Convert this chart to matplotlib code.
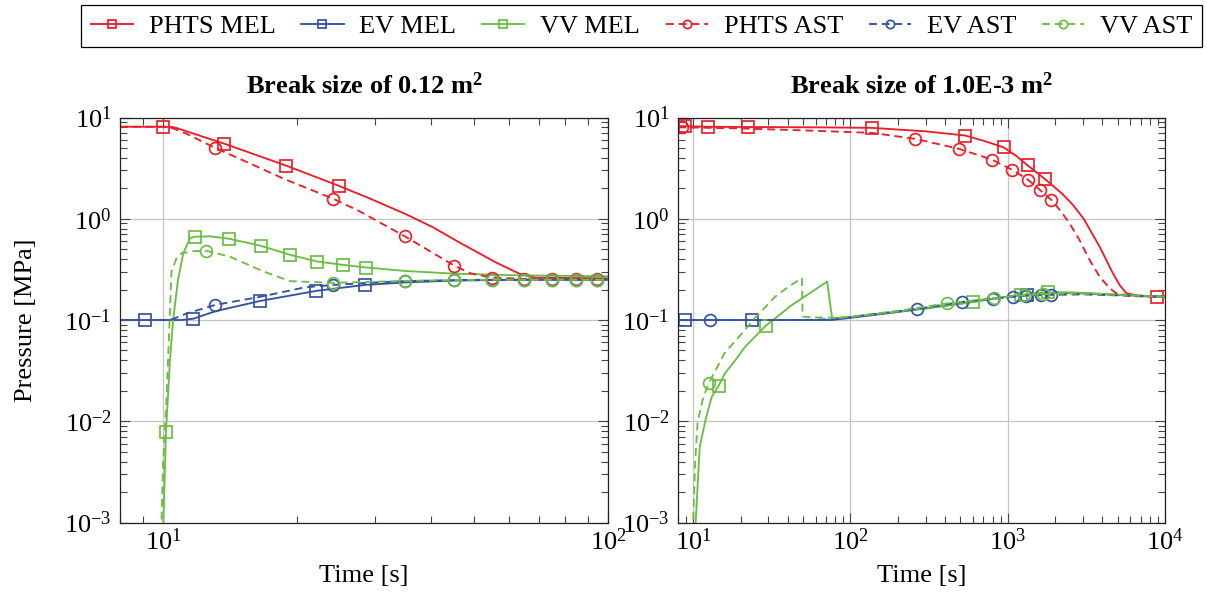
import numpy as np
import matplotlib
matplotlib.use("Agg")
import matplotlib.pyplot as plt
from matplotlib.ticker import LogLocator, NullFormatter

plt.rcParams["font.family"] = ["Liberation Serif", "DejaVu Serif"]
plt.rcParams["mathtext.fontset"] = "custom"
plt.rcParams["mathtext.rm"] = "Liberation Serif"
plt.rcParams["mathtext.it"] = "Liberation Serif:italic"
plt.rcParams["mathtext.bf"] = "Liberation Serif:bold"
plt.rcParams["font.size"] = 19

# ---------------- series: break size 0.12 m^2 ----------------
a_phts_mel_t = [8, 10, 10.5, 10.8, 11.3, 13.7, 18.9, 24.8, 29.2, 35.3, 40.5, 46.5, 56.3, 63.4, 68.6, 80, 100]
a_phts_mel_p = [8.1, 8.1, 8.05, 7.8, 7.3, 5.53, 3.35, 2.12, 1.58, 1.10, 0.82, 0.578, 0.366, 0.285, 0.262, 0.26, 0.258]
a_phts_mel_m = [10, 13.7, 18.9, 24.8]

a_ev_mel_t = [8, 9.1, 10, 11, 11.7, 13.1, 16.5, 22.1, 28.4, 35, 45, 55, 70, 100]
a_ev_mel_p = [0.1, 0.1, 0.1, 0.1, 0.103, 0.122, 0.154, 0.194, 0.222, 0.235, 0.245, 0.248, 0.25, 0.25]
a_ev_mel_m = [9.1, 11.7, 16.5, 22.1, 28.4]

a_vv_mel_t = [10.0, 10.15, 10.35, 10.53, 10.8, 11.1, 11.5, 11.8, 12.8, 14.06, 16.6, 19.3, 22.2, 25.4, 28.6, 35, 45, 60, 100]
a_vv_mel_p = [0.0008, 0.0078, 0.037, 0.1, 0.249, 0.457, 0.644, 0.665, 0.67, 0.635, 0.54, 0.44, 0.378, 0.35, 0.33, 0.305, 0.287, 0.277, 0.27]
a_vv_mel_m = [10.15, 11.8, 14.06, 16.6, 19.3, 22.2, 25.4, 28.6]

a_phts_ast_t = [8, 10, 10.5, 11.3, 13.1, 15.5, 18.8, 24.1, 27.7, 35.0, 45.1, 49.0, 54.8, 64.7, 74.8, 84.7, 94.4, 100]
a_phts_ast_p = [8.1, 8.1, 7.85, 6.9, 5.0, 3.6, 2.45, 1.58, 1.18, 0.668, 0.345, 0.29, 0.262, 0.255, 0.253, 0.252, 0.252, 0.252]
a_phts_ast_m = [13.1, 24.1, 35.0, 45.1, 54.8, 64.7, 74.8, 84.7, 94.4]

a_ev_ast_t = [8, 10, 10.5, 11.3, 13.1, 16.6, 20.8, 24.1, 30, 35.0, 45.1, 54.8, 64.7, 74.8, 84.7, 94.4, 100]
a_ev_ast_p = [0.1, 0.1, 0.102, 0.116, 0.141, 0.17, 0.21, 0.222, 0.235, 0.242, 0.248, 0.25, 0.25, 0.25, 0.25, 0.25, 0.25]
a_ev_ast_m = [13.1, 24.1, 35.0, 45.1, 54.8, 64.7, 74.8, 84.7, 94.4]

a_vv_ast_t = [9.9, 10.0, 10.18, 10.32, 10.44, 10.7, 11.0, 11.7, 12.5, 14.1, 16.8, 19.3, 24.1, 35.0, 45.1, 54.8, 64.7, 74.8, 84.7, 94.4, 100]
a_vv_ast_p = [0.0008, 0.0038, 0.017, 0.079, 0.3, 0.4, 0.457, 0.478, 0.482, 0.424, 0.302, 0.242, 0.233, 0.243, 0.248, 0.25, 0.25, 0.25, 0.25, 0.25, 0.25]
a_vv_ast_m = [12.5, 24.1, 35.0, 45.1, 54.8, 64.7, 74.8, 84.7, 94.4]

# ---------------- series: break size 1.0E-3 m^2 ----------------
b_phts_mel_t = [8, 8.87, 12.5, 22.3, 60, 137, 300, 536, 700, 940, 1127, 1337, 1734, 2234, 2588, 3040, 3840, 4660, 5140, 5680, 7000, 8890, 10000]
b_phts_mel_p = [8.2, 8.2, 8.1, 8.05, 8.0, 7.9, 7.3, 6.64, 5.9, 5.08, 4.2, 3.37, 2.45, 1.75, 1.38, 1.0, 0.53, 0.29, 0.222, 0.184, 0.172, 0.17, 0.17]
b_phts_mel_m = [8.87, 12.5, 22.3, 137, 536, 940, 1337, 1734, 8890]

b_ev_mel_t = [8, 8.9, 23.8, 50, 76.4, 100, 200, 300, 500, 800, 1000, 1330, 1500, 2000, 3000, 5000, 10000]
b_ev_mel_p = [0.1, 0.1, 0.1, 0.1, 0.1, 0.105, 0.12, 0.13, 0.145, 0.162, 0.17, 0.178, 0.182, 0.186, 0.184, 0.177, 0.17]
b_ev_mel_m = [8.9, 23.8, 1330]

b_vv_mel_t = [10.28, 11.0, 12.0, 13.1, 14.5, 15.9, 18.5, 21.4, 29.0, 42.5, 56.9, 71.0, 76.4, 100, 200, 300, 597, 800, 1000, 1214, 1500, 1794, 2500, 4000, 10000]
b_vv_mel_p = [0.0008, 0.0056, 0.0105, 0.0174, 0.0224, 0.0297, 0.040, 0.0545, 0.088, 0.141, 0.19, 0.24, 0.104, 0.107, 0.121, 0.131, 0.15, 0.162, 0.17, 0.177, 0.183, 0.187, 0.188, 0.181, 0.17]
b_vv_mel_m = [14.5, 29.0, 597, 1214, 1794]

b_phts_ast_t = [8, 8.43, 20, 54, 137, 259, 491, 793, 1064, 1346, 1607, 1897, 2183, 2467, 2855, 3311, 3840, 4445, 4900, 6000, 10000]
b_phts_ast_p = [8.0, 8.0, 7.8, 7.43, 7.05, 6.15, 4.9, 3.84, 3.05, 2.43, 1.92, 1.53, 1.18, 0.905, 0.62, 0.393, 0.268, 0.206, 0.184, 0.172, 0.17]
b_phts_ast_m = [8.43, 259, 491, 793, 1064, 1346, 1607, 1897]

b_ev_ast_t = [8, 12.8, 50, 80, 100, 200, 266, 515, 800, 1074, 1306, 1629, 1887, 3000, 5000, 10000]
b_ev_ast_p = [0.1, 0.1, 0.1, 0.102, 0.107, 0.122, 0.129, 0.151, 0.162, 0.169, 0.174, 0.176, 0.177, 0.179, 0.175, 0.17]
b_ev_ast_m = [12.8, 266, 515, 800, 1074, 1306, 1629, 1887]

b_vv_ast_t = [9.95, 10.27, 10.67, 11.6, 12.6, 15.8, 20.4, 24.6, 33.2, 40.4, 49.1, 49.6, 60, 80, 100, 200, 413, 820, 1274, 1667, 2500, 4000, 10000]
b_vv_ast_p = [0.0008, 0.0038, 0.010, 0.0174, 0.024, 0.047, 0.0738, 0.104, 0.17, 0.214, 0.259, 0.108, 0.106, 0.105, 0.108, 0.123, 0.146, 0.164, 0.176, 0.18, 0.183, 0.179, 0.17]
b_vv_ast_m = [12.6, 413, 820, 1274, 1667]

labels = ["PHTS MEL", "EV MEL", "VV MEL", "PHTS AST", "EV AST", "VV AST"]
titles = [r"Break size of 0.12 m$^{\mathbf{2}}$", r"Break size of 1.0E-3 m$^{\mathbf{2}}$"]
x_limits = [(8, 100), (8, 1e4)]
y_limits = (1e-3, 1e1)

RED, BLUE, GREEN = "#E8202A", "#3552A5", "#6CBD45"
colors = [RED, BLUE, GREEN, RED, BLUE, GREEN]
markers = ["s", "s", "s", "o", "o", "o"]
dashed = [False, False, False, True, True, True]

panel_series = [
    [(a_phts_mel_t, a_phts_mel_p, a_phts_mel_m), (a_ev_mel_t, a_ev_mel_p, a_ev_mel_m),
     (a_vv_mel_t, a_vv_mel_p, a_vv_mel_m), (a_phts_ast_t, a_phts_ast_p, a_phts_ast_m),
     (a_ev_ast_t, a_ev_ast_p, a_ev_ast_m), (a_vv_ast_t, a_vv_ast_p, a_vv_ast_m)],
    [(b_phts_mel_t, b_phts_mel_p, b_phts_mel_m), (b_ev_mel_t, b_ev_mel_p, b_ev_mel_m),
     (b_vv_mel_t, b_vv_mel_p, b_vv_mel_m), (b_phts_ast_t, b_phts_ast_p, b_phts_ast_m),
     (b_ev_ast_t, b_ev_ast_p, b_ev_ast_m), (b_vv_ast_t, b_vv_ast_p, b_vv_ast_m)],
]

fig = plt.figure(figsize=(12.07, 6.02), dpi=100)
W, H = 1207.0, 602.0
ax_boxes = [(120, 117.5, 608, 522.5), (678, 117.5, 1165, 522.5)]

handles = []
for k, (x0, y0, x1, y1) in enumerate(ax_boxes):
    ax = fig.add_axes([x0 / W, 1 - y1 / H, (x1 - x0) / W, (y1 - y0) / H])
    ax.set_xscale("log")
    ax.set_yscale("log")
    ax.set_xlim(*x_limits[k])
    ax.set_ylim(*y_limits)
    ax.grid(True, which="major", color="#c4c4c4", lw=0.9)
    ax.set_axisbelow(True)
    for j, (t, p, m) in enumerate(panel_series[k]):
        idx = [i for i, v in enumerate(t) if v in m]
        ls = (0, (4.2, 2.6)) if dashed[j] else "-"
        line, = ax.plot(t, p, color=colors[j], lw=1.35, linestyle=ls,
                        marker=markers[j], markevery=idx, ms=8.5,
                        mfc="none", mec=colors[j], mew=1.25, label=labels[j])
        if k == 0:
            handles.append(line)
    ax.xaxis.set_major_locator(LogLocator(base=10, numticks=10))
    ax.xaxis.set_minor_locator(LogLocator(base=10, subs=np.arange(2, 10), numticks=20))
    ax.yaxis.set_major_locator(LogLocator(base=10, numticks=10))
    ax.yaxis.set_minor_locator(LogLocator(base=10, subs=np.arange(2, 10), numticks=20))
    ax.xaxis.set_minor_formatter(NullFormatter())
    ax.yaxis.set_minor_formatter(NullFormatter())
    ax.tick_params(which="both", direction="in", top=True, right=True,
                   color="#444444", width=0.8, labelsize=19)
    ax.tick_params(which="major", length=7.5, pad=6)
    ax.tick_params(axis="x", which="major", pad=4)
    ax.tick_params(which="minor", length=5)
    for s in ax.spines.values():
        s.set_linewidth(0.9)
        s.set_color("#222222")
    ax.set_title(titles[k], fontweight="bold", fontsize=19, pad=17)
    ax.set_xlabel("Time [s]", fontsize=19)
    ax.xaxis.set_label_coords(0.5, -0.105)
    if k == 0:
        ax.set_ylabel("Pressure [MPa]", fontsize=19)
        ax.yaxis.set_label_coords(-0.17, 0.5)

leg = fig.legend(handles, labels, loc="upper center", bbox_to_anchor=(641.5 / W, 1 - 5 / H),
                 ncol=6, frameon=True, fancybox=False, edgecolor="black", framealpha=1,
                 handlelength=1.6, handletextpad=0.6, columnspacing=0.97,
                 borderpad=0.36, markerscale=0.7, fontsize=19, borderaxespad=0)
leg.get_frame().set_linewidth(0.9)

fig.savefig("out.png", dpi=100)
